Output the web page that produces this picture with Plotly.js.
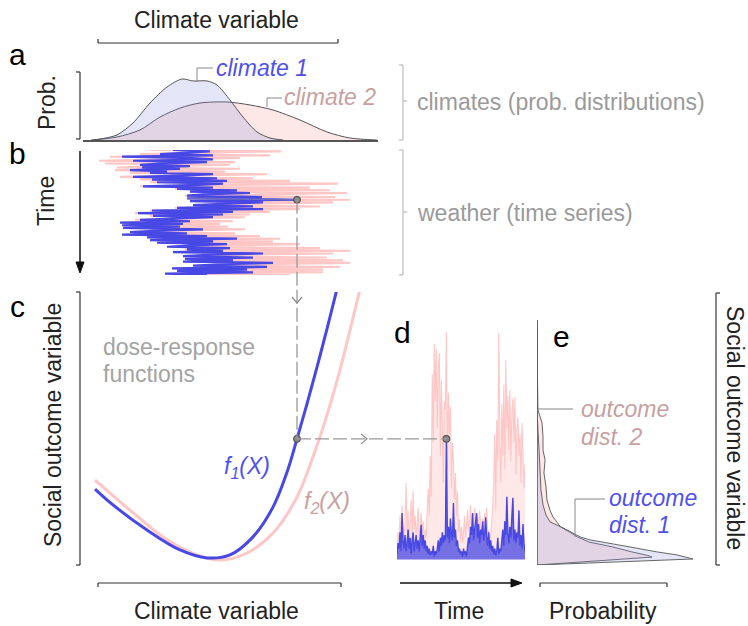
<!DOCTYPE html>
<html><head><meta charset="utf-8">
<script src="https://cdn.plot.ly/plotly-3.0.1.min.js"></script>
<style>html,body{margin:0;padding:0;background:#fff;}#chart{width:748px;height:626px;}</style>
</head><body><div id="chart"></div>
<script>
// ---------- DATA (climate variable in arbitrary units 0–29.5) ----------
const climate1X = [0.8, 1.7, 3.4, 5.0, 6.7, 8.4, 9.9, 11.0, 12.4, 13.4, 14.7, 16.0, 17.4, 18.7, 20.0];
const climate1Density = [0, 0.015, 0.074, 0.25, 0.544, 0.779, 0.897, 0.868, 0.868, 0.809, 0.588, 0.338, 0.118, 0.029, 0];
const climate2X = [1.0, 3.4, 5.7, 7.7, 9.7, 11.7, 14.4, 16.7, 19.0, 21.7, 24.4, 26.7, 29.4];
const climate2Density = [0, 0.044, 0.147, 0.338, 0.47, 0.544, 0.559, 0.515, 0.441, 0.294, 0.118, 0.029, 0];

// weather time series (value of climate variable at each time step, top = first)
const weather1 = [9.0, 12.7, 10.5, 7.7, 13.0, 3.9, 11.0, 13.0, 5.0, 12.4, 8.0, 5.7, 10.7, 5.9, 9.7, 4.7, 8.4, 6.7, 13.0, 10.0,
  5.0, 13.4, 6.9, 14.4, 7.4, 14.0, 11.5, 6.0, 13.0, 9.4, 15.4, 10.7, 16.7, 12.0, 10.4, 17.9, 10.4, 21.4, 10.7, 18.0,
  14.0, 11.0, 17.0, 9.4, 18.0, 6.9, 15.0, 5.5, 14.0, 7.0, 13.0, 9.0, 5.7, 10.7, 3.7, 10.0, 3.9, 9.7, 4.0, 12.0,
  7.5, 4.7, 10.4, 3.9, 12.4, 6.4, 15.4, 6.7, 13.0, 7.4, 14.4, 11.0, 8.4, 14.7, 10.4, 14.0, 9.0, 18.0, 12.5, 10.0,
  17.0, 10.2, 15.0, 10.0, 19.0, 14.0, 11.0, 18.4, 8.9, 16.4, 9.4, 17.0, 8.2, 12.4];
const weather2 = [6.7, 19.8, 12.0, 5.7, 18.7, 2.7, 15.7, 9.0, 1.6, 15.2, 2.2, 14.7, 8.0, 3.4, 15.7, 3.2, 14.2, 4.7, 18.4, 11.0,
  3.7, 17.0, 5.7, 20.7, 6.7, 25.5, 15.0, 5.7, 22.7, 9.2, 24.7, 10.7, 26.4, 18.0, 10.2, 25.2, 10.7, 26.7, 11.2, 25.0,
  16.0, 11.7, 23.7, 9.2, 21.7, 6.7, 18.7, 5.2, 16.7, 6.7, 16.2, 10.0, 5.2, 15.0, 4.0, 13.7, 4.2, 14.5, 4.4, 16.2,
  9.0, 4.7, 15.2, 4.2, 17.7, 6.7, 19.7, 7.2, 19.0, 7.7, 21.7, 14.0, 8.7, 23.7, 10.2, 26.7, 10.0, 25.0, 15.0, 10.7,
  24.4, 11.2, 26.0, 10.7, 26.7, 18.0, 11.7, 25.7, 10.2, 24.0, 10.7, 24.0, 9.2, 20.7];

// dose-response functions (social outcome, 0–100)
const dose1X = [1.2, 3.0, 6.4, 9.7, 12.4, 14.7, 17.0, 19.0, 20.4, 21.4, 22.4, 23.4, 24.4, 25.6];
const dose1Y = [27.8, 22.0, 12.8, 5.5, 2.6, 3.7, 10.3, 21.2, 34.0, 46.2, 59.0, 72.5, 86.5, 104];
const dose2X = [1.2, 4.7, 8.0, 11.4, 13.7, 16.4, 19.0, 21.4, 23.0, 24.4, 25.7, 26.7, 27.9];
const dose2Y = [31.1, 20.1, 10.3, 3.7, 1.8, 4.4, 11.7, 24.9, 39.6, 55.0, 71.5, 86.0, 104];

// outcome time series
const outcome1Series = [4, 8, 6, 12, 5, 19, 9, 6, 11, 5, 8, 13, 6, 10, 4, 9,
  12, 5, 8, 11, 6, 9, 5, 10, 14.7, 7, 11, 6, 9, 5, 7, 4,
  6, 3.5, 5, 4, 7, 3, 5, 4, 6, 9, 5, 10, 7, 12, 8, 11,
  9, 46.2, 10, 14, 8, 17, 11, 9, 22.7, 10, 13, 7, 9, 5, 6, 4,
  5, 3, 6, 4, 5, 3, 7, 10, 8, 14, 11, 19, 9, 13, 16, 19,
  10, 15, 8, 13, 11, 16, 9, 12, 17.5, 10, 7, 12, 6, 9, 5, 7,
  4, 6, 3.5, 5, 10, 4, 6, 5, 9, 13, 7, 16, 11, 25, 12, 8,
  14, 10, 18, 24.6, 9, 13, 8, 12, 10, 20, 7, 11, 6, 15, 8, 5];
const outcome2Series = [6, 12, 9, 18, 7, 22, 14, 10, 16, 30, 12, 20, 9, 15, 24, 11,
  27, 13, 18, 10, 15, 21, 9, 14, 19, 12, 16, 8, 13, 10, 20, 28,
  18, 40, 25, 70, 45, 81, 60, 79, 50, 72, 77.6, 40, 68, 52, 30, 60,
  56.8, 85.3, 35, 63, 48, 58, 28, 44.7, 38, 24, 33.7, 18, 27, 12, 17, 9,
  14, 8, 12, 18, 10, 15, 20, 13, 16, 22, 12, 19, 14, 21, 17, 11,
  18, 13, 20, 15, 9, 17, 12, 19, 14, 21, 10, 13, 8, 11, 16, 22,
  30, 48, 20, 53, 38, 85, 45, 30, 59, 40, 66, 35, 75, 50, 62, 42,
  64, 38, 56, 61, 45, 61.5, 33, 50, 54, 40, 48, 30, 52, 41, 28, 37];
const outcomeFloor = 2.0;

// outcome distributions (outcome value, probability)
const outDist1O = [89.7, 68.9, 56.8, 49.5, 42.1, 34.8, 27.5, 22.0, 18.3, 15.8, 13.6, 11.7, 10.3, 9.2, 8.1, 6.6, 4.8, 3.7, 2.2, 0];
const outDist1P = [0, 0, 0, 0.006, 0.013, 0.019, 0.025, 0.038, 0.057, 0.082, 0.165, 0.228, 0.272, 0.335, 0.443, 0.589, 0.759, 0.886, 0.987, 0];
const outDist2O = [89.7, 68.9, 56.8, 52.0, 46.9, 42.1, 38.5, 33.7, 28.6, 23.8, 20.1, 17.6, 15.4, 13.9, 12.1, 10.3, 8.4, 6.6, 4.8, 3.5, 2.9, 0];
const outDist2P = [0, 0.003, 0.006, 0.032, 0.038, 0.038, 0.051, 0.044, 0.057, 0.063, 0.082, 0.101, 0.130, 0.150, 0.205, 0.255, 0.330, 0.480, 0.600, 0.700, 0.728, 0];

const highlightClimate = 21.4;
const highlightOutcome = 46.2;

// ---------- LAYOUT GEOMETRY ----------
const W = 748, H = 626;
const FONT = 'Liberation Sans, Arial, Helvetica, sans-serif';
const G = {clim: [83, 378], climR: [0, 29.5], aY: [72, 140], bY: [150, 275], cY: [292, 565], dX: [397, 525], eX: [537, 695]};
const BLUE = '#4848e4', PINK = '#ffc6c6', PINKTXT = '#c9a0a0', BLUETXT = '#5050ee', GRAY = '#9a9a9a';

const px2x = p => p / W, py2y = p => 1 - p / H;
const domX = r => [r[0] / W, r[1] / W];
const domY = r => [1 - r[1] / H, 1 - r[0] / H];
const climPx = v => G.clim[0] + (v - G.climR[0]) / (G.climR[1] - G.climR[0]) * (G.clim[1] - G.clim[0]);
const timeBPy = t => G.bY[0] + t / 100 * (G.bY[1] - G.bY[0]);
const outPy = o => G.cY[1] - o / 100 * (G.cY[1] - G.cY[0]);
const timeDPx = t => G.dX[0] + t / 100 * (G.dX[1] - G.dX[0]);

const tB1 = weather1.map((_, i) => i * 100 / (weather1.length - 1));
const tB2 = weather2.map((_, i) => i * 100 / (weather2.length - 1));
const tD = outcome1Series.map((_, i) => i * 100 / (outcome1Series.length - 1));
const floorD = tD.map(() => outcomeFloor);
const hIdxB = weather1.indexOf(highlightClimate);
const hTimeB = tB1[hIdxB];
const hIdxD = outcome1Series.indexOf(highlightOutcome);
const hTimeD = tD[hIdxD];

const ln = (c, w, extra) => Object.assign({color: c, width: w, simplify: false}, extra || {});
const traces = [
  // a
  {x: climate2X, y: climate2Density, xaxis: 'x', yaxis: 'y', mode: 'lines', line: ln('#555', 1, {shape: 'spline', smoothing: 0.8}), fill: 'tozeroy', fillcolor: 'rgba(248,176,176,0.3)'},
  {x: climate1X, y: climate1Density, xaxis: 'x', yaxis: 'y', mode: 'lines', line: ln('#555', 1, {shape: 'spline', smoothing: 0.8}), fill: 'tozeroy', fillcolor: 'rgba(130,140,222,0.22)'},
  // b
  {x: weather2, y: tB2, xaxis: 'x', yaxis: 'y2', mode: 'lines', line: ln(PINK, 2.1)},
  {x: weather1, y: tB1, xaxis: 'x', yaxis: 'y2', mode: 'lines', line: ln(BLUE, 2.2)},
  {x: [weather1[hIdxB - 1], highlightClimate], y: [tB1[hIdxB - 1], hTimeB], xaxis: 'x', yaxis: 'y2', mode: 'lines', line: ln('#6c6cc2', 1.6)},
  // c
  {x: dose2X, y: dose2Y, xaxis: 'x', yaxis: 'y3', mode: 'lines', line: ln(PINK, 3, {shape: 'spline', smoothing: 1})},
  {x: dose1X, y: dose1Y, xaxis: 'x', yaxis: 'y3', mode: 'lines', line: ln(BLUE, 3, {shape: 'spline', smoothing: 1})},
  // d
  {x: tD, y: floorD, xaxis: 'x2', yaxis: 'y3', mode: 'lines', line: {width: 0}, hoverinfo: 'skip'},
  {x: tD, y: outcome2Series, xaxis: 'x2', yaxis: 'y3', mode: 'lines', line: ln(PINK, 1.1), fill: 'tonexty', fillcolor: 'rgba(255,205,205,0.45)'},
  {x: tD, y: floorD, xaxis: 'x2', yaxis: 'y3', mode: 'lines', line: {width: 0}, hoverinfo: 'skip'},
  {x: tD, y: outcome1Series, xaxis: 'x2', yaxis: 'y3', mode: 'lines', line: ln(BLUE, 1.4), fill: 'tonexty', fillcolor: 'rgba(72,72,228,0.75)'},
  // e
  {x: outDist2P, y: outDist2O, xaxis: 'x3', yaxis: 'y3', mode: 'lines', line: ln('#666', 1), fill: 'tozerox', fillcolor: 'rgba(248,176,176,0.3)'},
  {x: outDist1P, y: outDist1O, xaxis: 'x3', yaxis: 'y3', mode: 'lines', line: ln('#666', 1), fill: 'tozerox', fillcolor: 'rgba(130,140,222,0.22)'},
];
const mk = {size: 7, color: '#8a8a8a', line: {color: '#444', width: 1}};

const shapes = [];
const L = (x0, y0, x1, y1, color, width, dash) => shapes.push({type: 'line', xref: 'paper', yref: 'paper',
  x0: px2x(x0), y0: py2y(y0), x1: px2x(x1), y1: py2y(y1), line: {color: color, width: width, dash: dash || 'solid'}});
const P = (pts, color, width, fill) => shapes.push({type: 'path', xref: 'paper', yref: 'paper',
  path: pts.map((p, i) => (i ? 'L' : 'M') + px2x(p[0]) + ',' + py2y(p[1])).join(' ') + (fill ? ' Z' : ''),
  line: {color: color, width: width}, fillcolor: fill || 'rgba(0,0,0,0)'});

const DK = '#333', LG = '#bdbdbd';
// top bracket
L(98, 43, 338, 43, DK, 1.2); L(98, 39, 98, 43, DK, 1.2); L(338, 39, 338, 43, DK, 1.2);
// Prob bracket
L(80, 72, 80, 139, DK, 1.2); L(76, 72, 80, 72, DK, 1.2); L(76, 139, 80, 139, DK, 1.2);
// Time arrow (vertical)
L(80, 151, 80, 263, '#111', 1.5); P([[76, 262], [84, 262], [80, 273]], '#111', 1, '#111');
// right gray brackets
L(403, 65, 403, 140, LG, 1.2); L(399, 65, 403, 65, LG, 1.2); L(399, 140, 403, 140, LG, 1.2); L(403, 101, 407, 101, LG, 1.2);
L(403, 150, 403, 275, LG, 1.2); L(399, 150, 403, 150, LG, 1.2); L(399, 275, 403, 275, LG, 1.2); L(403, 212, 407, 212, LG, 1.2);
// c left bracket
L(80, 292, 80, 565, DK, 1.2); L(76, 292, 80, 292, DK, 1.2); L(76, 565, 80, 565, DK, 1.2);
// right bracket
L(716, 293, 716, 565, DK, 1.2); L(716, 293, 720, 293, DK, 1.2); L(716, 565, 720, 565, DK, 1.2);
// bottom brackets
L(98, 583, 341, 583, DK, 1.2); L(98, 583, 98, 587, DK, 1.2); L(341, 583, 341, 587, DK, 1.2);
L(540, 583, 667, 583, DK, 1.2); L(540, 583, 540, 587, DK, 1.2); L(667, 583, 667, 587, DK, 1.2);
// time arrow (d)
L(400, 583, 512, 583, '#111', 1.5); P([[511, 579], [511, 587], [522, 583]], '#111', 1, '#111');
// e axis
shapes.push({type: 'line', xref: 'x3', yref: 'y3', x0: 0, x1: 0, y0: 0, y1: outDist1O[0], line: {color: '#555', width: 1.5}});

// connectors
const hx = climPx(highlightClimate), hyB = timeBPy(hTimeB), hyC = outPy(highlightOutcome), hxD = timeDPx(hTimeD);
L(hx, hyB, hx, hyC, '#999', 1.3, '14px,4px');
P([[hx - 5, 297], [hx, 303], [hx + 5, 297]], '#888', 1.2);
L(hx, hyC, hxD, hyC, '#999', 1.3, '14px,4px');
P([[361, hyC - 5], [367, hyC], [361, hyC + 5]], '#888', 1.2);
// leaders
P([[197, 82], [197, 68], [213, 68]], '#888', 1);
P([[267, 107], [267, 98], [282, 98]], '#888', 1);
P([[538, 409], [573, 409]], '#888', 1);
P([[575, 537], [575, 499], [605, 499]], '#888', 1);

traces.push({x: [highlightClimate], y: [hTimeB], xaxis: 'x', yaxis: 'y2', mode: 'markers', marker: mk});
traces.push({x: [highlightClimate], y: [highlightOutcome], xaxis: 'x', yaxis: 'y3', mode: 'markers', marker: mk});
traces.push({x: [hTimeD], y: [highlightOutcome], xaxis: 'x2', yaxis: 'y3', mode: 'markers', marker: mk});

const anns = [];
const T = (text, x, y, o) => { o = o || {}; anns.push({xref: 'paper', yref: 'paper', x: px2x(x), y: py2y(y), text: text, showarrow: false,
  xanchor: o.xa || 'center', yanchor: 'middle', textangle: o.ang || 0,
  font: {family: FONT, size: o.size || 23, color: o.color || '#222'}}); };

T('Climate variable', 216, 20);
T('Climate variable', 216, 611);
T('Time', 459, 611);
T('Probability', 603, 611);
T('a', 17, 54, {size: 30, color: '#000'});
T('b', 17, 153, {size: 30, color: '#000'});
T('c', 17, 306, {size: 30, color: '#000'});
T('d', 402, 332, {size: 30, color: '#000'});
T('e', 561, 336, {size: 30, color: '#000'});
T('Prob.', 47, 103, {ang: -90});
T('Time', 46, 201, {ang: -90});
T('Social outcome variable', 53, 425, {ang: -90});
T('Social outcome variable', 735, 428, {ang: 90});
T('<i>climate 1</i>', 214, 68, {xa: 'left', color: BLUETXT});
T('<i>climate 2</i>', 282, 97, {xa: 'left', color: PINKTXT});
T('climates (prob. distributions)', 415, 102, {xa: 'left', color: GRAY});
T('weather (time series)', 415, 213, {xa: 'left', color: GRAY});
T('dose-response', 101, 347, {xa: 'left', color: '#a3a3a3'});
T('functions', 101, 374, {xa: 'left', color: '#a3a3a3'});
T('<i>f<sub>1</sub>(X)</i>', 222, 467, {xa: 'left', color: BLUETXT});
T('<i>f<sub>2</sub>(X)</i>', 302, 502, {xa: 'left', color: PINKTXT});
T('<i>outcome</i>', 579, 409, {xa: 'left', color: PINKTXT});
T('<i>dist. 2</i>', 579, 437, {xa: 'left', color: PINKTXT});
T('<i>outcome</i>', 607, 498, {xa: 'left', color: BLUETXT});
T('<i>dist. 1</i>', 607, 525, {xa: 'left', color: BLUETXT});

const hid = {showgrid: false, zeroline: false, showticklabels: false, ticks: '', showline: false, fixedrange: true};
const layout = {
  width: W, height: H, margin: {l: 0, r: 0, t: 0, b: 0}, paper_bgcolor: '#fff', plot_bgcolor: 'rgba(0,0,0,0)',
  showlegend: false, font: {family: FONT},
  xaxis: Object.assign({}, hid, {domain: domX(G.clim), range: G.climR, anchor: 'y', showline: true, linecolor: '#555', linewidth: 1.5}),
  yaxis: Object.assign({}, hid, {domain: domY(G.aY), range: [0, 1], anchor: 'x'}),
  yaxis2: Object.assign({}, hid, {domain: domY(G.bY), range: [100, 0], anchor: 'x'}),
  yaxis3: Object.assign({}, hid, {domain: domY(G.cY), range: [0, 100], anchor: 'x'}),
  xaxis2: Object.assign({}, hid, {domain: domX(G.dX), range: [0, 100], anchor: 'y3'}),
  xaxis3: Object.assign({}, hid, {domain: domX(G.eX), range: [0, 1], anchor: 'y3'}),
  shapes: shapes, annotations: anns
};
Plotly.newPlot('chart', traces, layout, {displayModeBar: false, staticPlot: true});
</script></body></html>
